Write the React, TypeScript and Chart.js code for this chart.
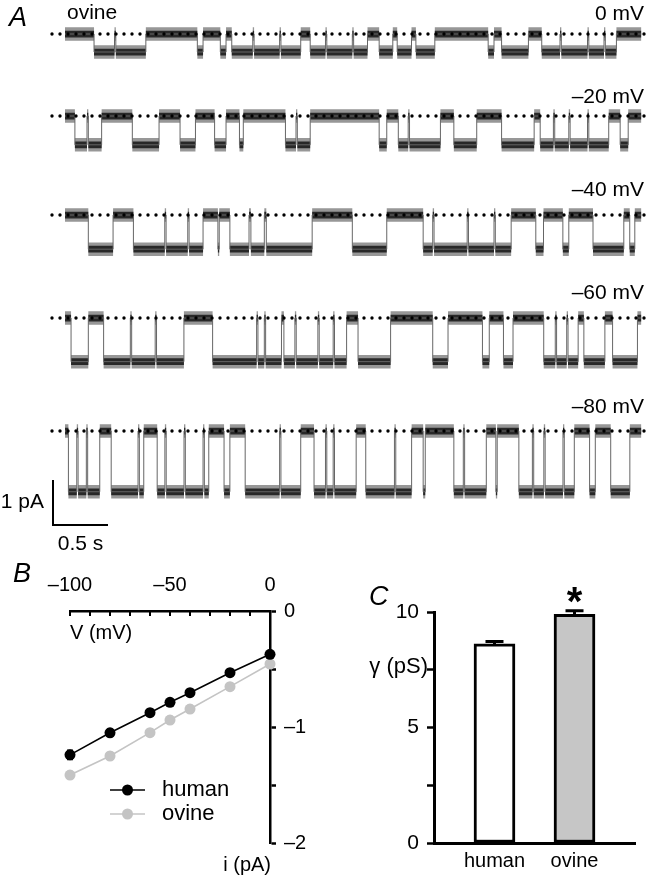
import React, { useEffect, useRef } from "react";
import { Chart, registerables } from "chart.js";
Chart.register(...registerables);

const FONT = "'Liberation Sans', Arial, Helvetica, sans-serif";

// ================= Panel A: single-channel traces (ovine) =================
// Each trace: [time (s), state] transitions; state 1 = open (inward current), 0 = closed
const traceLabels = ["0 mV", "–20 mV", "–40 mV", "–60 mV", "–80 mV"];
const traceAmplitudesPA = [0.4, 0.64, 0.76, 0.97, 1.35];
const traceDurationS = 5.24;
const trace0mV: number[][] = [
  [0, 0], [0.264, 1], [0.735, 0], [1.203, 1], [1.255, 0], [1.412, 1], [1.464, 0], [1.516, 1],
  [2.143, 0], [2.229, 1], [2.75, 0], [2.856, 1], [2.98, 0], [3.02, 1], [3.15, 0], [3.19, 1],
  [3.362, 0], [3.847, 1], [3.9, 0], [3.969, 1], [4.213, 0], [4.334, 1], [5.013, 0],
];
const traceM20mV: number[][] = [
  [0, 0], [0.09, 1], [0.333, 0], [0.612, 1], [0.855, 0], [1.046, 1], [1.186, 0], [1.36, 1],
  [1.464, 0], [1.586, 1], [1.621, 0], [2.004, 1], [2.229, 0], [2.856, 1], [2.925, 0], [3.03, 1],
  [3.413, 0], [3.535, 1], [3.743, 0], [3.969, 1], [4.265, 0], [4.32, 1], [4.943, 0], [5.047, 1],
  [5.12, 0],
];
const traceM40mV: number[][] = [
  [0, 0], [0.212, 1], [0.437, 0], [0.622, 1], [1.255, 0], [1.499, 1], [1.673, 0], [1.69, 1],
  [1.812, 0], [1.83, 1], [2.247, 0], [2.612, 1], [2.925, 0], [3.256, 1], [4.056, 0], [4.28, 1],
  [4.35, 0], [4.526, 1], [4.58, 0], [4.8, 1], [5.08, 0], [5.134, 1], [5.18, 0],
];
const traceM60mV: number[][] = [
  [0, 0], [0.055, 1], [0.212, 0], [0.351, 1], [1.081, 0], [1.342, 1], [1.968, 0], [1.99, 1],
  [2.56, 0], [2.664, 1], [2.96, 0], [3.343, 1], [3.482, 0], [3.795, 1], [3.857, 0], [3.986, 1],
  [4.073, 0], [4.352, 1], [4.665, 0], [4.717, 1], [4.908, 0], [4.978, 1], [5.204, 0],
];
const traceM80mV: number[][] = [
  [0, 0], [0.031, 1], [0.316, 0], [0.42, 1], [0.716, 0], [0.838, 1], [1.307, 0], [1.446, 1],
  [1.499, 0], [1.638, 1], [2.143, 0], [2.264, 1], [2.647, 0], [2.734, 1], [3.151, 0], [3.256, 1],
  [3.275, 0], [3.535, 1], [3.83, 0], [4.126, 1], [4.63, 0], [4.769, 1], [4.821, 0], [4.961, 1],
  [5.135, 0],
];
// brief flickers (s) seen as thin spikes in each trace
const flicker0mV = [0.45, 1.707, 1.951, 2.368, 2.612, 4.5, 4.75, 4.9];
const flickerM20mV = [0.2, 2.1, 3.12, 4.44, 4.58, 4.75];
const flickerM40mV = [0.907, 1.116, 1.39, 3.343, 3.656, 3.9];
const flickerM60mV = [0.594, 0.82, 1.742, 1.812, 2.09, 2.299, 2.438, 4.457, 4.561];
const flickerM80mV = [0.107, 0.194, 0.664, 0.908, 1.082, 1.255, 1.951, 2.368, 2.438, 2.995, 3.621, 3.917, 4.249, 4.353, 4.527];
const traces = [trace0mV, traceM20mV, traceM40mV, traceM60mV, traceM80mV];
const flickers = [flicker0mV, flickerM20mV, flickerM40mV, flickerM60mV, flickerM80mV];
const flickerDurationS = 0.012;
const scaleBarCurrentPA = 1;
const scaleBarTimeS = 0.5;

// ================= Panel B: i–V relation =================
const voltagesMV = [-100, -80, -60, -50, -40, -20, 0];
const humanCurrentPA = [-1.24, -1.05, -0.877, -0.787, -0.704, -0.532, -0.373];
const ovineCurrentPA = [-1.414, -1.25, -1.049, -0.94, -0.845, -0.652, -0.457];
const humanSemPA = [0.04, 0.03, 0.03, 0.03, 0.03, 0.03, 0.03];
const ovineSemPA = [0.03, 0.03, 0.03, 0.03, 0.03, 0.03, 0.03];
const voltageTicks = [-100, -90, -80, -70, -60, -50, -40, -30, -20, -10, 0];
const voltageTickLabels = [-100, -50, 0];
const currentTicks = [0, -0.5, -1, -1.5, -2];
const currentTickLabels = [0, -1, -2];

// ================= Panel C: conductance =================
const groups = ["human", "ovine"];
const conductancePS = [8.62, 9.9];
const conductanceSemPS = [0.1, 0.15];
const conductanceTicks = [0, 2.5, 5, 7.5, 10];
const conductanceTickLabels = [0, 5, 10];

// ---------- layout / style constants ----------
const PX_PER_PA = 45;
const PX_PER_S = 110;
const A_W = 650;
const A_H = 555;
const TRACE_X0 = 65;
const TRACE_BASE_PX = [34, 116, 215, 318, 431];
const TRACE_LABEL_Y = [14, 97, 190, 293, 407];
const NOISE_OUTER = 0.15;
const NOISE_INNER = 0.075;

const dash = (v: number) => (v < 0 ? "–" + Math.abs(v) : String(v));

function withFlickers(tr: number[][], fl: number[]) {
  const stateAt = (t: number) => {
    let s = tr[0][1];
    for (const [tt, ss] of tr) if (tt <= t) s = ss;
    return s;
  };
  const ev = tr.map((p) => [p[0], p[1]]);
  fl.forEach((t) => {
    const s = stateAt(t);
    ev.push([t, 1 - s], [t + flickerDurationS, s]);
  });
  ev.sort((a, b) => a[0] - b[0]);
  return ev;
}

function useChart(build: (c: HTMLCanvasElement) => Chart) {
  const ref = useRef<HTMLCanvasElement | null>(null);
  useEffect(() => {
    if (!ref.current) return;
    const ch = build(ref.current);
    return () => ch.destroy();
  }, []);
  return ref;
}

function buildA(canvas: HTMLCanvasElement) {
  const datasets: any[] = [];
  traces.forEach((raw, i) => {
    const tr = withFlickers(raw, flickers[i]);
    const base = -TRACE_BASE_PX[i] / PX_PER_PA;
    const amp = traceAmplitudesPA[i];
    const pts = tr.map(([t, s]) => ({ x: t, y: base - s * amp }));
    const last = tr[tr.length - 1];
    pts.push({ x: traceDurationS, y: base - last[1] * amp });
    const shift = (d: number) => pts.map((p) => ({ x: p.x, y: p.y + d }));
    datasets.push(
      { data: shift(NOISE_OUTER), stepped: true, borderWidth: 0, pointRadius: 0, fill: false, order: 5 },
      { data: shift(-NOISE_OUTER), stepped: true, borderWidth: 0, pointRadius: 0, fill: "-1", backgroundColor: "rgba(140,140,140,0.9)", order: 5 },
      { data: shift(NOISE_INNER), stepped: true, borderWidth: 0, pointRadius: 0, fill: false, order: 4 },
      { data: shift(-NOISE_INNER), stepped: true, borderWidth: 0, pointRadius: 0, fill: "-1", backgroundColor: "rgba(30,30,30,0.92)", order: 4 },
      { data: pts, stepped: true, borderWidth: 1, borderColor: "#666", pointRadius: 0, fill: false, order: 3 },
    );
  });
  traces.forEach((_, i) => {
    const base = -TRACE_BASE_PX[i] / PX_PER_PA;
    datasets.push({
      data: [{ x: (52 - TRACE_X0) / PX_PER_S, y: base }, { x: (646 - TRACE_X0) / PX_PER_S, y: base }],
      borderColor: "#000", borderWidth: 3.4, borderDash: [0, 8], borderCapStyle: "round",
      pointRadius: 0, fill: false, order: 1,
    });
  });

  const textPlugin = {
    id: "aText",
    afterDraw(chart: any) {
      const ctx = chart.ctx;
      const xs = chart.scales.x, ys = chart.scales.y;
      ctx.save();
      ctx.fillStyle = "#000";
      ctx.textBaseline = "middle";
      ctx.font = `italic 27px ${FONT}`;
      ctx.textAlign = "left";
      ctx.fillText("A", 9, 18);
      ctx.font = `21px ${FONT}`;
      ctx.fillText("ovine", 67, 13);
      ctx.textAlign = "right";
      traceLabels.forEach((l, i) => ctx.fillText(l, 644, TRACE_LABEL_Y[i]));
      const t0 = (53 - TRACE_X0) / PX_PER_S;
      const v0 = -525 / PX_PER_PA;
      const x0 = xs.getPixelForValue(t0), y0 = ys.getPixelForValue(v0);
      const x1 = xs.getPixelForValue(t0 + scaleBarTimeS);
      const y1 = ys.getPixelForValue(v0 + scaleBarCurrentPA);
      ctx.strokeStyle = "#000";
      ctx.lineWidth = 2;
      ctx.beginPath();
      ctx.moveTo(x0, y1);
      ctx.lineTo(x0, y0);
      ctx.lineTo(x1, y0);
      ctx.stroke();
      ctx.fillText(`${scaleBarCurrentPA} pA`, 44, (y0 + y1) / 2);
      ctx.textAlign = "center";
      ctx.fillText(`${scaleBarTimeS} s`, (x0 + x1) / 2, y0 + 19);
      ctx.restore();
    },
  };

  return new Chart(canvas, {
    type: "line",
    data: { datasets },
    options: {
      animation: false,
      responsive: false,
      events: [],
      layout: { padding: 0 },
      plugins: { legend: { display: false }, tooltip: { enabled: false } },
      scales: {
        x: { type: "linear", display: false, min: -TRACE_X0 / PX_PER_S, max: (A_W - TRACE_X0) / PX_PER_S },
        y: { type: "linear", display: false, min: -A_H / PX_PER_PA, max: 0 },
      },
    },
    plugins: [textPlugin],
  } as any);
}

function buildB(canvas: HTMLCanvasElement) {
  const mk = (ys: number[]) => voltagesMV.map((v, i) => ({ x: v, y: ys[i] }));
  const errPlugin = {
    id: "bExtras",
    beforeDatasetsDraw(chart: any) {
      const ctx = chart.ctx;
      const xs = chart.scales.x, ysc = chart.scales.y;
      ctx.save();
      [[humanCurrentPA, humanSemPA, "#000"], [ovineCurrentPA, ovineSemPA, "#c4c4c4"]].forEach(([m, s, c]: any) => {
        ctx.strokeStyle = c;
        ctx.lineWidth = 1.5;
        voltagesMV.forEach((v, i) => {
          const x = xs.getPixelForValue(v);
          const a = ysc.getPixelForValue(m[i] + s[i]);
          const b = ysc.getPixelForValue(m[i] - s[i]);
          ctx.beginPath();
          ctx.moveTo(x, a); ctx.lineTo(x, b);
          ctx.moveTo(x - 3, a); ctx.lineTo(x + 3, a);
          ctx.moveTo(x - 3, b); ctx.lineTo(x + 3, b);
          ctx.stroke();
        });
      });
      ctx.restore();
    },
    afterDraw(chart: any) {
      const ctx = chart.ctx;
      const xs = chart.scales.x;
      const ca = chart.chartArea;
      ctx.save();
      ctx.strokeStyle = "#000";
      ctx.lineWidth = 2;
      voltageTicks.forEach((v) => {
        const x = xs.getPixelForValue(v);
        ctx.beginPath();
        ctx.moveTo(x, ca.top);
        ctx.lineTo(x, ca.top + 5);
        ctx.stroke();
      });
      ctx.fillStyle = "#000";
      ctx.textBaseline = "middle";
      ctx.font = `italic 27px ${FONT}`;
      ctx.textAlign = "left";
      ctx.fillText("B", 13, 14);
      ctx.font = `20px ${FONT}`;
      ctx.fillText("V (mV)", ca.left, ca.top + 22);
      ctx.textAlign = "right";
      ctx.fillText("i (pA)", ca.right + 1, ca.bottom + 22);
      ctx.font = `22px ${FONT}`;
      const items = [["human", "#000", 230], ["ovine", "#c4c4c4", 254]] as any[];
      items.forEach(([lab, col, y]) => {
        ctx.strokeStyle = col;
        ctx.fillStyle = col;
        ctx.lineWidth = 1.6;
        ctx.beginPath();
        ctx.moveTo(110, y); ctx.lineTo(145, y);
        ctx.stroke();
        ctx.beginPath();
        ctx.arc(127.5, y, 5.5, 0, Math.PI * 2);
        ctx.fill();
        ctx.fillStyle = "#000";
        ctx.textAlign = "left";
        ctx.fillText(lab, 162, y);
      });
      ctx.restore();
    },
  };
  return new Chart(canvas, {
    type: "line",
    data: {
      datasets: [
        { label: "human", data: mk(humanCurrentPA), borderColor: "#000", backgroundColor: "#000", borderWidth: 1.6, pointRadius: 5.5, pointBorderWidth: 0, clip: false },
        { label: "ovine", data: mk(ovineCurrentPA), borderColor: "#c4c4c4", backgroundColor: "#c4c4c4", borderWidth: 1.6, pointRadius: 5.5, pointBorderWidth: 0, clip: false },
      ],
    },
    options: {
      animation: false,
      responsive: false,
      events: [],
      layout: { padding: { left: 70, right: 0, top: 0, bottom: 32 } },
      plugins: { legend: { display: false }, tooltip: { enabled: false } },
      scales: {
        x: {
          type: "linear", position: "top", min: -100, max: 0,
          afterBuildTicks: (s: any) => { s.ticks = voltageTickLabels.map((v) => ({ value: v })); },
          afterFit: (s: any) => { s.height = 51; },
          ticks: { color: "#000", font: { family: FONT, size: 20 }, padding: 14, maxRotation: 0, autoSkip: false, callback: (v: any) => dash(v) },
          grid: { display: false, drawTicks: false },
          border: { display: true, color: "#000", width: 2.5 },
        },
        y: {
          type: "linear", position: "right", min: -2, max: 0,
          afterBuildTicks: (s: any) => { s.ticks = currentTicks.map((v) => ({ value: v })); },
          afterFit: (s: any) => { s.width = 70; },
          ticks: { color: "#000", font: { family: FONT, size: 20 }, padding: 8, autoSkip: false, callback: (v: any) => (currentTickLabels.includes(v) ? dash(v) : "") },
          grid: { drawOnChartArea: false, drawTicks: true, tickLength: 6, tickWidth: 2.5, tickColor: "#000" },
          border: { display: true, color: "#000", width: 2.5 },
        },
      },
    },
    plugins: [errPlugin],
  } as any);
}

function buildC(canvas: HTMLCanvasElement) {
  const extras = {
    id: "cExtras",
    afterDatasetsDraw(chart: any) {
      const ctx = chart.ctx;
      const xs = chart.scales.x, ys = chart.scales.y;
      const ca = chart.chartArea;
      ctx.save();
      ctx.strokeStyle = "#000";
      ctx.lineWidth = 3;
      groups.forEach((g, i) => {
        const x = xs.getPixelForValue(i + 1);
        const top = ys.getPixelForValue(conductancePS[i] + conductanceSemPS[i]);
        const mid = ys.getPixelForValue(conductancePS[i]);
        ctx.beginPath();
        ctx.moveTo(x, mid); ctx.lineTo(x, top);
        ctx.moveTo(x - 9, top); ctx.lineTo(x + 9, top);
        ctx.stroke();
      });
      const xo = xs.getPixelForValue(2);
      const to = ys.getPixelForValue(conductancePS[1] + conductanceSemPS[1]);
      ctx.fillStyle = "#000";
      ctx.textAlign = "center";
      ctx.textBaseline = "alphabetic";
      ctx.font = `bold 40px ${FONT}`;
      ctx.fillText("*", xo, to + 4);
      ctx.textBaseline = "middle";
      ctx.font = `italic 27px ${FONT}`;
      ctx.textAlign = "left";
      ctx.fillText("C", 29, 27);
      ctx.font = `22px ${FONT}`;
      ctx.textAlign = "right";
      ctx.fillText("γ (pS)", ca.left - 6, 97);
      ctx.restore();
    },
  };
  return new Chart(canvas, {
    type: "bar",
    data: {
      datasets: [
        {
          data: groups.map((g, i) => ({ x: i + 1, y: conductancePS[i] })),
          backgroundColor: ["#ffffff", "#c6c6c6"],
          borderColor: "#000",
          borderWidth: 3,
          borderSkipped: false,
          barThickness: 41,
        },
      ],
    },
    options: {
      animation: false,
      responsive: false,
      events: [],
      layout: { padding: { left: 0, right: 15, top: 42, bottom: 0 } },
      plugins: { legend: { display: false }, tooltip: { enabled: false } },
      scales: {
        x: {
          type: "linear", min: 0.244, max: 2.756, offset: false,
          afterBuildTicks: (s: any) => { s.ticks = groups.map((_, i) => ({ value: i + 1 })); },
          afterFit: (s: any) => { s.height = 32; },
          ticks: { color: "#000", font: { family: FONT, size: 20 }, padding: 6, autoSkip: false, maxRotation: 0, callback: (v: any) => groups[Math.round(v) - 1] },
          grid: { display: false, drawTicks: false, offset: false },
          border: { display: true, color: "#000", width: 3 },
        },
        y: {
          type: "linear", min: 0, max: 10,
          afterBuildTicks: (s: any) => { s.ticks = conductanceTicks.map((v) => ({ value: v })); },
          afterFit: (s: any) => { s.width = 94; },
          ticks: { color: "#000", font: { family: FONT, size: 21 }, padding: 8, autoSkip: false, callback: (v: any) => (conductanceTickLabels.includes(v) ? String(v) : "") },
          grid: { drawOnChartArea: false, drawTicks: true, tickLength: 7, tickWidth: 2.5, tickColor: "#000" },
          border: { display: true, color: "#000", width: 3 },
        },
      },
    },
    plugins: [extras],
  } as any);
}

export default function App() {
  const refA = useChart(buildA);
  const refB = useChart(buildB);
  const refC = useChart(buildC);
  return (
    <div style={{ position: "fixed", left: 0, top: 0, width: 650, height: 875, background: "#fff", overflow: "hidden" }}>
      <canvas ref={refA} width={A_W} height={A_H} style={{ position: "absolute", left: 0, top: 0, width: A_W, height: A_H }} />
      <canvas ref={refB} width={340} height={315} style={{ position: "absolute", left: 0, top: 560, width: 340, height: 315 }} />
      <canvas ref={refC} width={310} height={305} style={{ position: "absolute", left: 340, top: 570, width: 310, height: 305 }} />
    </div>
  );
}
